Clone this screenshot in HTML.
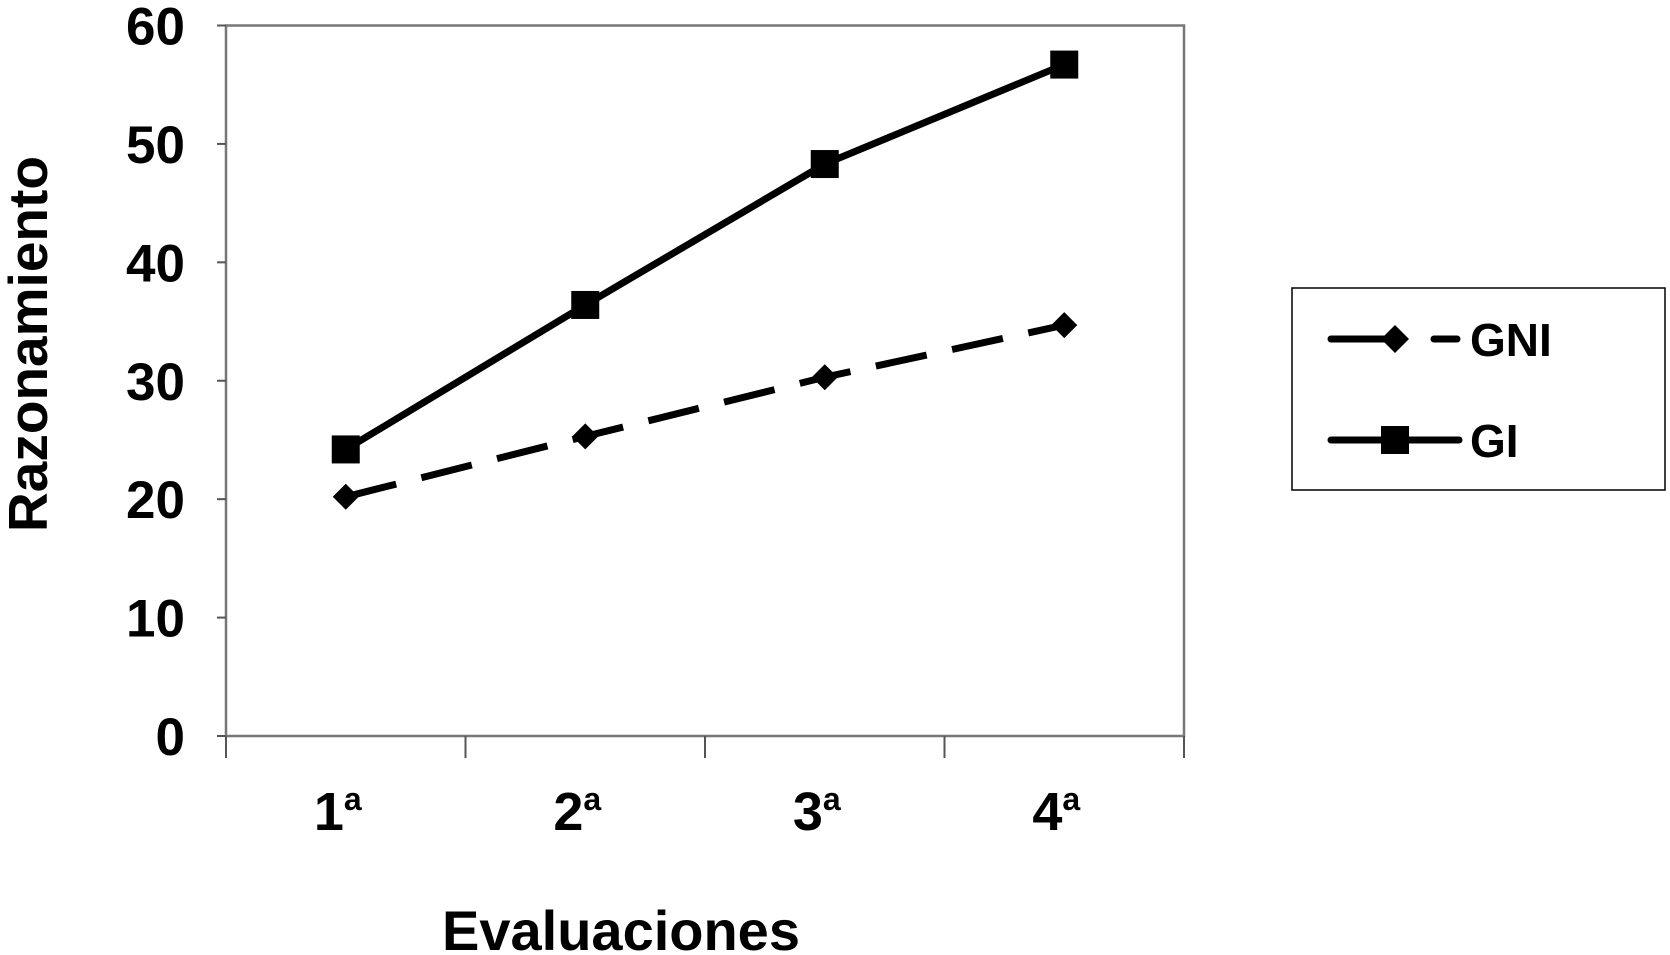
<!DOCTYPE html>
<html><head><meta charset="utf-8"><style>
html,body{margin:0;padding:0;background:#fff;}
svg{display:block;font-family:"Liberation Sans",Arial,sans-serif;font-weight:bold;}
</style></head><body>
<svg id="chart" width="1670" height="955" viewBox="0 0 1670 955">
<rect x="226" y="25.5" width="958" height="710.5" fill="#fff" stroke="#777" stroke-width="2.5"/>
<g id="axes"></g>
<g id="series"></g>
<text x="621" y="950" font-size="56" text-anchor="middle">Evaluaciones</text>
<text transform="translate(47,344) rotate(-90)" font-size="55" text-anchor="middle">Razonamiento</text>
<g>
<rect x="1292" y="288" width="373" height="202" fill="#fff" stroke="#000" stroke-width="1.5"/>
<g>
<line x1="1331" y1="339" x2="1395" y2="339" stroke="#000" stroke-width="7" stroke-linecap="round"/>
<line x1="1434" y1="339" x2="1457" y2="339" stroke="#000" stroke-width="7" stroke-linecap="round"/>
<polygon points="1395,325 1409,339 1395,353 1381,339" fill="#000"/>
<text x="1470" y="356" font-size="46">GNI</text>
</g>
<g>
<line x1="1331" y1="440" x2="1459" y2="440" stroke="#000" stroke-width="7" stroke-linecap="round"/>
<rect x="1381" y="426" width="28" height="28" fill="#000"/>
<text x="1470" y="457" font-size="46">GI</text>
</g>
</g>
</svg>
<script>
const categories = ["1","2","3","4"];
const gniValues = [20.2, 25.3, 30.3, 34.7];
const giValues = [24.2, 36.4, 48.3, 56.7];
const yTicks = [0,10,20,30,40,50,60];

const NS="http://www.w3.org/2000/svg";
const L=226,R=1184,T=25.5,B=736;
const y=v=>B-(v/60)*(B-T);
const bw=(R-L)/categories.length;
const x=i=>L+bw*(i+0.5);
function mk(t,a,p){const e=document.createElementNS(NS,t);for(const k in a)e.setAttribute(k,a[k]);p.appendChild(e);return e;}
const ax=document.getElementById('axes');
yTicks.forEach(v=>{
  const ln=mk('line',{x1:L-9,x2:L,y1:y(v),y2:y(v),stroke:'#555','stroke-width':2},ax);
  
  
  const t=mk('text',{x:185,y:y(v)+19,'font-size':53,'text-anchor':'end'},ax);
  t.textContent=v;
  
  
});
for(let i=0;i<=categories.length;i++){
  const ln=mk('line',{x1:L+bw*i,x2:L+bw*i,y1:B,y2:B+22,stroke:'#555','stroke-width':2},ax);
  
  
}
categories.forEach((c,i)=>{
  const t=mk('text',{x:x(i)-8,y:830,'font-size':54,'text-anchor':'middle'},ax);
  t.textContent=c;
  const s=mk('tspan',{dy:-20,'font-size':32},t);
  s.textContent='a';
  
  
});
const sg=document.getElementById('series');
const gniPts=gniValues.map((v,i)=>x(i)+','+y(v)).join(' ');
const gl=mk('polyline',{points:gniPts,fill:'none',stroke:'#000','stroke-width':7,'stroke-dasharray':'52,26'},sg);


const giPts=giValues.map((v,i)=>x(i)+','+y(v)).join(' ');
const il=mk('polyline',{points:giPts,fill:'none',stroke:'#000','stroke-width':7},sg);


gniValues.forEach((v,i)=>{
  const cx=x(i),cy=y(v);
  const d=mk('polygon',{points:`${cx},${cy-13} ${cx+13},${cy} ${cx},${cy+13} ${cx-13},${cy}`,fill:'#000'},sg);
  
  
});
giValues.forEach((v,i)=>{
  const r=mk('rect',{x:x(i)-14,y:y(v)-14,width:28,height:28,fill:'#000'},sg);
  
  
});
</script>
</body></html>
